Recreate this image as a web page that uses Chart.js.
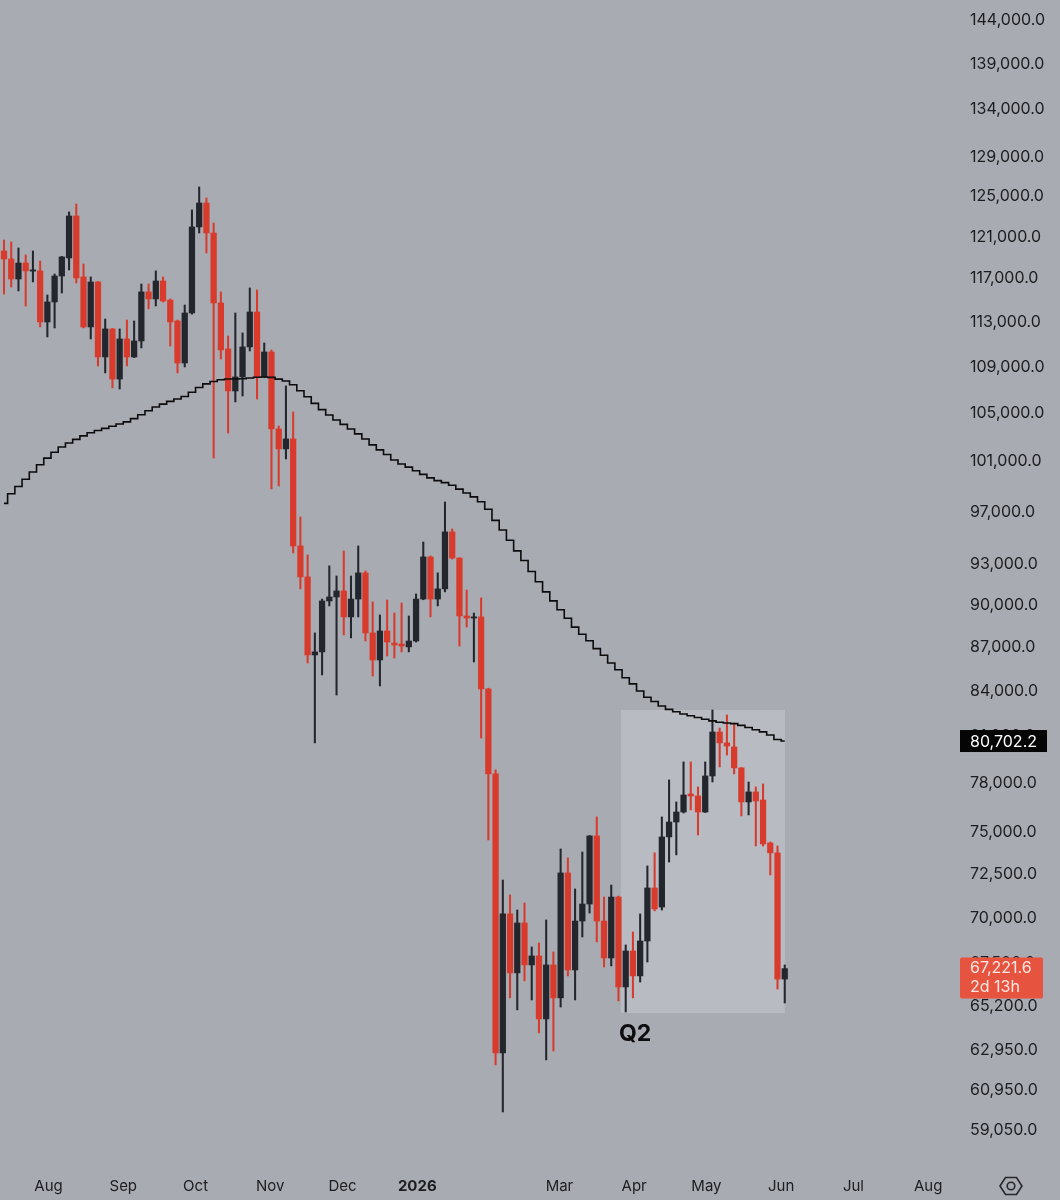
<!DOCTYPE html>
<html>
<head>
<meta charset="utf-8">
<script src="https://cdn.jsdelivr.net/npm/chart.js@4.4.1/dist/chart.umd.min.js"></script>
<style>
  html, body { margin: 0; padding: 0; background: #a9abb2; }
  #wrap { width: 1060px; height: 1200px; position: relative; }
  canvas { display: block; }
</style>
</head>
<body>
<div id="wrap"><canvas id="c" width="1060" height="1200"></canvas></div>
<script>
// ---------------- DATA ----------------
const firstBarStart = '2025-07-12';   // start date of first 3-day bar
const barDays = 3;

const opens  = [119620,118850,116960,118470,117700,117720,112990,114820,117240,118950,
                123030,117150,112540,116680,109860,112360,107930,111460,109860,111280,
                115750,115100,116770,115000,113080,109330,113810,121950,124320,121360,
                114730,110570,106900,108110,110750,113900,108110,110300,103690,102040,
                102860,94390,92070,86480,86690,90310,90600,91040,89160,90450,
                92370,88020,86130,88160,87310,87240,87040,87450,90450,93560,
                90450,91190,95460,93480,89230,89080,89160,84150,78600,62820,
                70240,66990,69730,67420,67910,64560,67420,65660,72590,67150,
                69840,70800,74780,69840,67800,71200,66240,68180,66830,68730,
                71720,70630,74720,75620,76230,77340,77220,76230,78470,81290,
                80580,80320,78980,76850,77470,76970,74360,73770,66660];
const highs  = [120680,120490,119910,119240,119620,118660,115470,117430,119100,123430,
                124220,118380,117150,116720,113260,112400,112360,113170,113080,116490,
                116490,117720,117150,115100,113170,114540,123630,125930,124820,122340,
                115750,111730,113810,112000,116120,115930,111100,110480,103940,107330,
                105110,96610,93710,88020,90450,92890,92140,94010,92140,94390,
                92510,90240,89300,90380,89440,90160,89230,90820,94690,93630,
                92370,97780,95690,93500,91110,89440,90530,84200,78850,72180,
                71320,70460,70860,68400,68620,69900,68130,74000,73470,71660,
                73820,74800,75930,71200,71890,71250,68510,69230,70240,73000,
                73770,75930,78220,76850,79360,79360,77780,79360,82740,81550,
                82410,81880,79000,78090,77780,77970,74420,74180,67420];
const lows   = [115560,116210,115840,114450,116680,112540,111640,112450,115650,117810,
                116590,112450,111460,109070,108460,107160,107070,109070,109800,110660,
                114180,114450,114820,110830,108460,108980,113700,121360,119430,101300,
                109680,103350,105960,106470,110390,106210,108050,98810,99050,101220,
                93860,91190,85920,80580,85100,89950,83740,87880,87670,89160,
                87450,85030,84350,86410,86270,86690,86690,87380,90400,89160,
                89950,90970,93400,87100,88440,85990,80900,74540,62220,59910,
                65660,65030,66560,65550,63840,62470,62920,65180,66830,65550,
                68950,70290,68680,67310,67370,65500,64920,65660,66500,67580,
                70410,70460,73230,73650,76170,76360,74840,76200,78090,79040,
                79800,78600,75990,76050,74180,74180,72470,66130,65390];
const closes = [118850,116960,118470,117720,117760,112990,114820,117240,119050,123030,
                117050,112540,116680,109860,112360,107930,111460,109860,111280,115750,
                115100,116770,114910,112990,109330,113810,121950,124320,121360,114730,
                110480,106900,108110,110750,113900,108110,110300,103690,102040,102860,
                94390,92070,86480,86690,90310,90600,91040,89160,90450,92370,
                88020,86130,88160,87380,87170,87100,87450,90450,93560,90450,
                91190,95460,93480,89230,89080,89160,84150,78600,62820,70240,
                66990,69730,67420,67910,64560,67420,65660,72590,67150,69840,
                70800,74780,69840,67800,71200,66240,68180,66830,68730,71720,
                70520,74720,75620,76230,77280,77220,76230,78470,81290,80580,
                80380,78980,76850,77470,76910,74300,73770,66660,67221.6];
const movingAverage = [97670,98430,99010,99580,100160,100750,101290,101770,102200,102520,
                102820,103110,103370,103560,103740,103910,104100,104280,104550,104880,
                105210,105530,105780,106010,106210,106420,106790,107200,107510,107720,
                107870,107930,107930,107960,108020,108080,108110,108070,107920,107760,
                107440,106920,106410,105840,105310,104860,104430,104070,103680,103280,
                102850,102370,101960,101580,101140,100810,100560,100260,99970,99690,
                99470,99310,99110,98800,98490,98180,97800,97210,96350,95610,
                94820,94020,93290,92470,91710,90970,90320,89670,89070,88430,
                87930,87470,86920,86460,85920,85460,84910,84490,84010,83590,
                83300,83000,82780,82620,82470,82360,82240,82130,82020,81930,
                81880,81840,81720,81580,81440,81300,81090,80800,80702.2];

const monthTickDates  = ['2025-08-01','2025-09-01','2025-10-01','2025-11-01','2025-12-01','2026-01-01',
                         '2026-03-01','2026-04-01','2026-05-01','2026-06-01','2026-07-01','2026-08-01'];
const monthTickLabels = ['Aug','Sep','Oct','Nov','Dec','2026','Mar','Apr','May','Jun','Jul','Aug'];
const priceTicks = [144000,139000,134000,129000,125000,121000,117000,113000,109000,105000,101000,
                    97000,93000,90000,87000,84000,81000,78000,75000,72500,70000,67500,65200,62950,60950,59050];

const viewDays = [-0.16, 397.4];       // visible time window, days from firstBarStart
const priceRange = [57552, 146331];    // visible price window
const q2Box = { from: '2026-03-26T12:00:00Z', to: '2026-06-02T14:00:00Z', top: 82740, bottom: 64870, label: 'Q2' };
const lastPrice = 67221.6;
const countdown = '2d 13h';
const maLabelValue = 80702.2;

// ---------------- HELPERS ----------------
const t0 = Date.parse(firstBarStart + 'T00:00:00Z');
const dayOf = s => (Date.parse(s.length === 10 ? s + 'T00:00:00Z' : s) - t0) / 86400000;
const barX = i => i * barDays + barDays / 2;
const fmt = v => v.toLocaleString('en-US', { minimumFractionDigits: 1, maximumFractionDigits: 1 });

const UP = '#23262c', DOWN = '#d83b2c';
const colors = opens.map((o, i) => closes[i] >= o ? UP : DOWN);

const wickData = lows.map((l, i) => ({ x: barX(i), y: [l, highs[i]] }));
const bodyData = opens.map((o, i) => ({ x: barX(i), y: [o, closes[i]] }));
const maData = movingAverage.map((v, i) => ({ x: barX(i), y: v }));
const monthTickDays = monthTickDates.map(dayOf);

const zeroPad = s => { s.paddingTop = 0; s.paddingBottom = 0; s.paddingLeft = 0; s.paddingRight = 0; };

// ---------------- PLUGINS ----------------
const boxPlugin = {
  id: 'q2box',
  beforeDatasetsDraw(chart) {
    const { ctx, scales: { x, y } } = chart;
    const l = x.getPixelForValue(dayOf(q2Box.from)), r = x.getPixelForValue(dayOf(q2Box.to));
    const t = y.getPixelForValue(q2Box.top), b = y.getPixelForValue(q2Box.bottom);
    ctx.save();
    ctx.fillStyle = '#b9bbc3';
    ctx.fillRect(l, t, r - l, b - t);
    ctx.fillStyle = '#0d0d0f';
    ctx.font = 'bold 23px Inter, "DejaVu Sans", sans-serif';
    ctx.textAlign = 'left';
    ctx.textBaseline = 'middle';
    ctx.fillText(q2Box.label, l - 2, b + 21);
    ctx.restore();
  }
};

const tagPlugin = {
  id: 'tags',
  afterDraw(chart) {
    const { ctx, scales: { y }, chartArea } = chart;
    const x0 = chartArea.right + 2;
    ctx.save();
    // MA tag
    const ym = y.getPixelForValue(maLabelValue);
    ctx.fillStyle = '#050505';
    ctx.fillRect(x0, ym - 11, 87, 22);
    ctx.fillStyle = '#ffffff';
    ctx.font = '16px Inter, "DejaVu Sans", sans-serif';
    ctx.textAlign = 'left';
    ctx.textBaseline = 'middle';
    ctx.fillText(fmt(maLabelValue), x0 + 10, ym + 1);
    // last price tag
    const yp = y.getPixelForValue(lastPrice);
    ctx.fillStyle = '#e6533e';
    ctx.beginPath();
    ctx.roundRect ? ctx.roundRect(x0, yp - 11, 83, 41, 2) : ctx.rect(x0, yp - 11, 83, 41);
    ctx.fill();
    ctx.fillStyle = '#fde8e4';
    ctx.fillText(fmt(lastPrice), x0 + 10, yp);
    ctx.fillText(countdown, x0 + 10, yp + 19);
    // settings icon
    const cx = 1011, cy = 1186;
    ctx.strokeStyle = '#26272b';
    ctx.lineWidth = 1.6;
    ctx.beginPath();
    ctx.moveTo(cx - 11, cy);
    ctx.lineTo(cx - 5.5, cy - 8.5);
    ctx.lineTo(cx + 5.5, cy - 8.5);
    ctx.lineTo(cx + 11, cy);
    ctx.lineTo(cx + 5.5, cy + 8.5);
    ctx.lineTo(cx - 5.5, cy + 8.5);
    ctx.closePath();
    ctx.stroke();
    ctx.beginPath();
    ctx.arc(cx, cy, 3.8, 0, Math.PI * 2);
    ctx.stroke();
    ctx.restore();
  }
};

// ---------------- CHART ----------------
Chart.defaults.font.family = 'Inter, "DejaVu Sans", sans-serif';
Chart.defaults.color = '#1c1d20';

new Chart(document.getElementById('c'), {
  type: 'bar',
  data: {
    datasets: [
      { type: 'line', data: maData, borderColor: '#0c0c0e', borderWidth: 1.6, pointRadius: 0,
        stepped: 'middle', order: -1, fill: false },
      { type: 'bar', data: bodyData, backgroundColor: colors, borderWidth: 0, barThickness: 5.6,
        minBarLength: 1.2, grouped: false, order: 0 },
      { type: 'bar', data: wickData, backgroundColor: colors, borderWidth: 0, barThickness: 1.4,
        grouped: false, order: 1 }
    ]
  },
  options: {
    responsive: false,
    animation: false,
    devicePixelRatio: 1,
    layout: { padding: 0 },
    plugins: { legend: { display: false }, tooltip: { enabled: false } },
    scales: {
      x: {
        type: 'linear',
        offset: false,
        min: viewDays[0],
        max: viewDays[1],
        grid: { display: false, drawTicks: false },
        border: { display: false },
        afterBuildTicks: s => { s.ticks = monthTickDays.map(v => ({ value: v })); },
        afterFit: s => { s.height = 38; zeroPad(s); },
        ticks: {
          autoSkip: false,
          maxRotation: 0,
          padding: 15,
          color: '#1c1d20',
          font: ctx => ({ size: 15, weight: monthTickLabels[ctx.index] === '2026' ? 'bold' : 'normal' }),
          callback: (v, i) => monthTickLabels[i]
        }
      },
      y: {
        type: 'logarithmic',
        position: 'right',
        min: priceRange[0],
        max: priceRange[1],
        grid: { display: false, drawTicks: false },
        border: { display: false },
        afterBuildTicks: s => { s.ticks = priceTicks.map(v => ({ value: v })); },
        afterFit: s => { s.width = 102; zeroPad(s); },
        ticks: {
          autoSkip: false,
          padding: 12,
          color: '#1c1d20',
          font: { size: 16 },
          callback: v => fmt(v)
        }
      }
    }
  },
  plugins: [boxPlugin, tagPlugin]
});
</script>
</body>
</html>
